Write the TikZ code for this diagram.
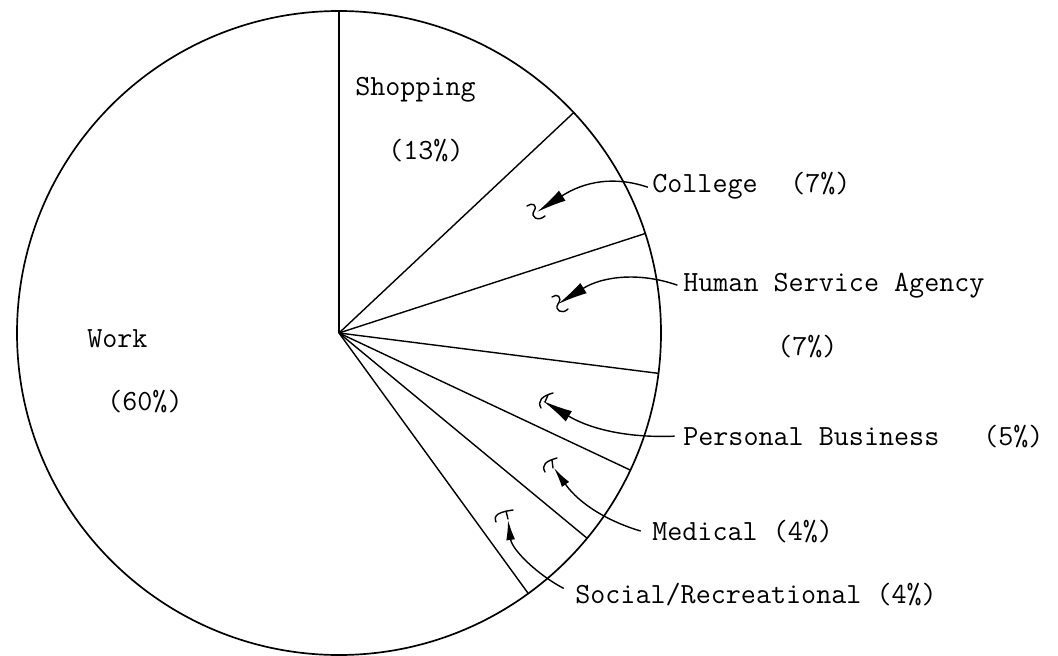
\documentclass[tikz,border=0pt]{standalone}
\usepackage{fontspec}
\usepackage{tikz}
\usetikzlibrary{arrows.meta}

\tikzset{
  lbl/.style={anchor=base west, inner sep=0pt, font=\fontsize{20.8}{25}\selectfont\ttfamily},
  rim/.style={line width=1.2pt},
  spoke/.style={line width=1pt},
  pointer/.style={line width=1pt, -{Latex[length=7.5mm, width=3mm]}},
  thinpointer/.style={line width=1pt, -{Latex[length=5mm, width=2.2mm]}},
  curl/.style={line width=1pt, line cap=round},
}

\begin{document}
\begin{tikzpicture}[x=0.025cm, y=-0.025cm]
  % canvas in pixel units (y grows downwards)
  \useasboundingbox (0,0) rectangle (1058,656);
  \def\cx{339}   % pie centre x
  \def\cy{333}   % pie centre y
  \def\rad{322}  % pie radius

  \coordinate (ctr) at (\cx,\cy);

  % Pie outline and slice borders (clockwise from the top)
  \draw[rim] (ctr) circle[radius=\rad*0.025cm];
  \foreach \a in {90, 43.2, 18, -7.2, -25.2, -39.6, -54} {
    \draw[spoke] (ctr) -- ({\cx+\rad*cos(\a)},{\cy-\rad*sin(\a)});
  }

  % Labels inside the pie
  \node[lbl] (shop)    at (355,96)  {Shopping};
  \node[lbl] (shoppct) at (388,160) {(13\%)};
  \node[lbl] (work)    at (87,347)  {Work};
  \node[lbl] (workpct) at (107,410) {(60\%)};

  % Labels outside the pie
  \node[lbl] (college)    at (652,193) {College};
  \node[lbl] (collegepct) at (790,193) {(7\%)};
  \node[lbl] (hsa)        at (683,291) {Human Service Agency};
  \node[lbl] (hsapct)     at (777,355) {(7\%)};
  \node[lbl] (persbus)    at (683,445) {Personal Business};
  \node[lbl] (persbuspct) at (983,445) {(5\%)};
  \node[lbl] (medical)    at (652,540) {Medical (4\%)};
  \node[lbl] (social)     at (575,603) {Social/Recreational (4\%)};

  % Pointer ends
  \coordinate (collegetip) at (537,212);
  \coordinate (hsatip)     at (558,304);
  \coordinate (persbustip) at (543,401);
  \coordinate (medicaltip) at (554,468);
  \coordinate (socialtip)  at (508,520);

  % Curved pointers
  \draw[pointer] ([xshift=-3pt]college.west) .. controls (615,176) and (585,181) .. (collegetip);
  \draw[pointer] ([xshift=-4pt]hsa.west) .. controls (640,272) and (603,276) .. (hsatip);
  \draw[pointer] ([xshift=-6pt]persbus.west) .. controls (630,438) and (592,430) .. (persbustip);
  \draw[thinpointer] ([xshift=-8pt]medical.west) .. controls (610,522) and (580,505) .. (medicaltip);
  \draw[thinpointer] ([xshift=-8pt,yshift=4pt]social.west) .. controls (538,575) and (512,550) .. (socialtip);

  % Little hand-drawn curls at the pointer ends
  \draw[curl] (527,206) .. controls (532,202) and (538,205) .. (534,211)
              .. controls (530,217) and (538,222) .. (545,216);
  \draw[curl] (552,297) .. controls (557,293) and (563,297) .. (558,304)
              .. controls (554,310) and (562,315) .. (568,309);
  \draw[curl] (541,408) .. controls (537,401) and (542,396) .. (553,393);
  \draw[curl] (548,395) -- (545,402);
  \draw[curl] (545,472) .. controls (541,465) and (546,461) .. (557,458);
  \draw[curl] (552,460) -- (553,468);
  \draw[curl] (496,522) .. controls (493,515) and (499,512) .. (513,510);
  \draw[curl] (506,511) -- (508,519);

\end{tikzpicture}
\end{document}
